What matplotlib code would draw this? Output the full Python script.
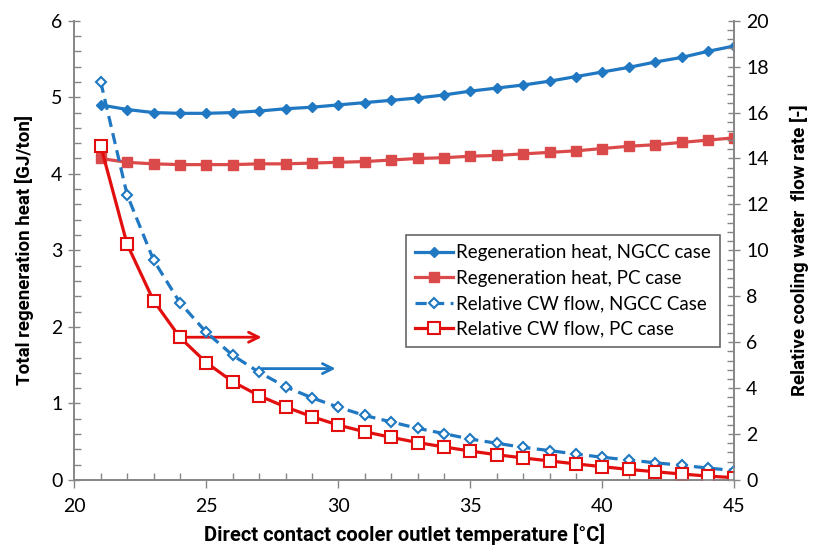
import numpy as np
import matplotlib.pyplot as plt
from matplotlib.ticker import MultipleLocator

plt.rcParams['font.family'] = ['Lato', 'DejaVu Sans']

# outlet temperature [C]
temp = list(range(21, 46))

# total regeneration heat [GJ/ton] (left axis)
regen_ngcc = [4.90, 4.84, 4.80, 4.79, 4.79, 4.80, 4.82, 4.85, 4.87, 4.90,
              4.93, 4.96, 4.99, 5.03, 5.08, 5.12, 5.16, 5.21, 5.27, 5.33,
              5.39, 5.46, 5.52, 5.60, 5.67]
regen_pc = [4.20, 4.15, 4.13, 4.12, 4.12, 4.12, 4.13, 4.13, 4.14, 4.15,
            4.16, 4.18, 4.20, 4.21, 4.23, 4.24, 4.26, 4.28, 4.30, 4.33,
            4.36, 4.38, 4.41, 4.44, 4.47]

# relative cooling water flow [-] (right axis)
cw_ngcc = [17.34, 12.42, 9.58, 7.72, 6.43, 5.43, 4.69, 4.06, 3.58, 3.17,
           2.81, 2.53, 2.25, 2.02, 1.78, 1.60, 1.42, 1.28, 1.13, 0.99,
           0.87, 0.75, 0.64, 0.52, 0.41]
cw_pc = [14.55, 10.27, 7.81, 6.21, 5.11, 4.28, 3.67, 3.18, 2.76, 2.39,
         2.10, 1.86, 1.63, 1.44, 1.26, 1.10, 0.96, 0.83, 0.70, 0.58,
         0.46, 0.36, 0.26, 0.17, 0.10]

blue = '#1f78c1'
red_light = '#db4a4a'
red = '#e30e0e'
grey = '#868686'

fig = plt.figure(figsize=(8.13, 5.45), dpi=100)
ax1 = fig.add_axes([0.0914, 0.1193, 0.8118, 0.8427])
ax2 = ax1.twinx()

l1, = ax1.plot(temp, regen_ngcc, '-', color=blue, lw=2.3, marker='D', ms=5.5,
               label='Regeneration heat, NGCC case')
l2, = ax1.plot(temp, regen_pc, '-', color=red_light, lw=2.3, marker='s', ms=7.5,
               label='Regeneration heat, PC case')
l3, = ax2.plot(temp, cw_ngcc, '--', color=blue, lw=2.3, marker='D', ms=5.5,
               mfc='white', mec=blue, mew=1.5, dashes=(3.5, 2),
               label='Relative CW flow, NGCC Case')
l4, = ax2.plot(temp, cw_pc, '-', color=red, lw=2.3, marker='s', ms=8,
               mfc='white', mec=red, mew=1.5,
               label='Relative CW flow, PC case')

# arrows pointing to the right axis
ax1.annotate('', xy=(27.2, 1.865), xytext=(24.0, 1.865),
             arrowprops=dict(arrowstyle='->', color=red, lw=2, mutation_scale=18))
ax1.annotate('', xy=(30.0, 1.455), xytext=(27.0, 1.455),
             arrowprops=dict(arrowstyle='->', color=blue, lw=2, mutation_scale=18))

ax1.set_xlim(20, 45)
ax1.set_ylim(0, 6)
ax2.set_ylim(0, 20)
ax1.xaxis.set_major_locator(MultipleLocator(5))
ax1.xaxis.set_minor_locator(MultipleLocator(1))
ax1.yaxis.set_major_locator(MultipleLocator(1))
ax1.yaxis.set_minor_locator(MultipleLocator(0.2))
ax2.yaxis.set_major_locator(MultipleLocator(2))
ax2.yaxis.set_minor_locator(MultipleLocator(0.4))

for ax in (ax1, ax2):
    ax.spines['top'].set_visible(False)
    for s in ('left', 'right', 'bottom'):
        ax.spines[s].set_color(grey)
        ax.spines[s].set_linewidth(1.2)
    ax.tick_params(which='major', direction='inout', length=9, width=1,
                   color=grey, labelsize=14, pad=4)
    ax.tick_params(which='minor', direction='in', length=5, width=1, color=grey)
ax1.tick_params(axis='x', which='major', direction='out', length=6, pad=7)

lab = dict(fontsize=13.5, fontweight='bold', family=['Roboto', 'DejaVu Sans'])
ax1.set_xlabel('Direct contact cooler outlet temperature [°C]', labelpad=6,
               fontsize=14.5, fontweight='bold', family=['Roboto', 'DejaVu Sans'])
ax1.set_ylabel('Total regeneration heat [GJ/ton]', labelpad=12, **lab)
ax2.set_ylabel('Relative cooling water  flow rate [-]', labelpad=15, **lab)

leg = ax2.legend(handles=[l1, l2, l3, l4], loc='upper left',
                 bbox_to_anchor=(0.499, 0.569), bbox_transform=fig.transFigure,
                 fontsize=13.5, frameon=True, fancybox=False, handlelength=2.0,
                 handletextpad=0.2, borderpad=0.5, labelspacing=0.45,
                 borderaxespad=0)
leg.get_frame().set_edgecolor('#404040')
leg.get_frame().set_linewidth(1.2)

fig.savefig('out.png', dpi=100)
